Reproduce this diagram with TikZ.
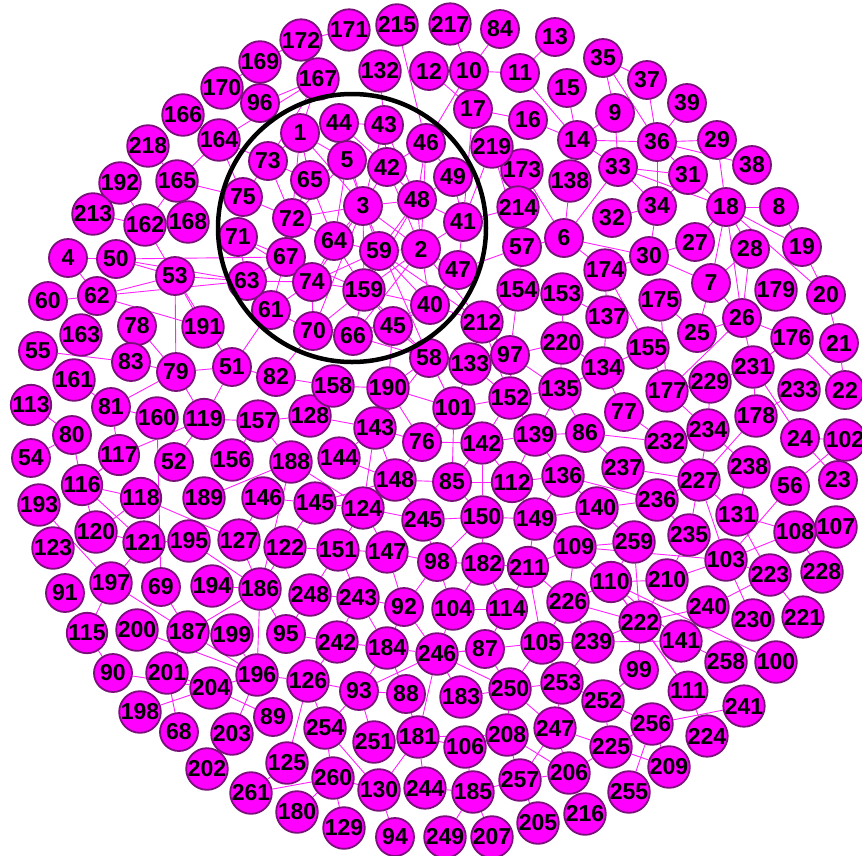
\documentclass[tikz,border=0pt]{standalone}
\usepackage{fontspec}
\setmainfont{Liberation Sans}
\definecolor{vfill}{HTML}{FF00FF}
\definecolor{vdraw}{HTML}{7A107A}
\definecolor{edgec}{HTML}{FF22FF}
\pgfdeclarelayer{edgelayer}
\pgfsetlayers{edgelayer,main}
\tikzset{
  vx/.style={circle, fill=vfill, draw=vdraw, line width=1.8pt, minimum size=38pt, inner sep=0pt,
    font=\bfseries\fontsize{23}{23}\selectfont, text=black},
  ed/.style={draw=edgec, line width=0.9pt},
  hilite/.style={draw=black, line width=4.5pt}
}
\begin{document}
\begin{tikzpicture}[x=1pt,y=1pt]
\useasboundingbox (0,0) rectangle (862,-855);
\foreach \n/\x/\y in {
1/300/133, 2/421/249, 3/363/206, 4/68/258, 5/347/160, 6/564/238, 7/711/283, 8/779/207, 9/615/113, 10/469/71,
11/520/73, 12/429/71, 13/555/37, 14/577/140, 15/567/88, 16/528/120, 17/473/109, 18/726/207, 19/802/247, 20/826/295,
21/839/343, 22/845/390, 23/838/480, 24/800/438, 25/697/333, 26/742/318, 27/695/242, 28/750/249, 29/717/140, 30/649/256,
31/688/175, 32/612/218, 33/618/167, 34/657/206, 35/603/58, 36/657/142, 37/647/80, 38/752/165, 39/687/103, 40/430/305,
41/463/222, 42/387/167, 43/384/125, 44/339/123, 45/393/326, 46/426/143, 47/458/270, 48/417/200, 49/453/177, 50/116/259,
51/232/367, 52/174/462, 53/175/276, 54/31/458, 55/38/351, 56/790/486, 57/522/247, 58/429/358, 59/379/251, 60/48/301,
61/271/310, 62/97/296, 63/247/281, 64/334/241, 65/310/180, 66/353/336, 67/286/257, 68/179/732, 69/161/587, 70/313/331,
71/238/237, 72/292/218, 73/268/161, 74/312/282, 75/243/197, 76/422/442, 77/624/412, 78/137/326, 79/176/372, 80/72/435,
81/111/407, 82/276/377, 83/131/362, 84/500/29, 85/452/482, 86/585/433, 87/485/649, 88/406/694, 89/273/717, 90/113/673,
91/65/593, 92/404/607, 93/359/691, 94/395/837, 95/286/634, 96/260/103, 97/510/355, 98/437/562, 99/639/670, 100/776/662,
101/454/408, 102/845/440, 103/726/560, 104/453/609, 105/542/643, 106/465/747, 107/836/527, 108/795/532, 109/575/547, 110/611/582,
111/688/691, 112/512/482, 113/31/405, 114/507/609, 115/87/633, 116/82/485, 117/119/455, 118/141/498, 119/204/419, 120/96/532,
121/144/542, 122/285/547, 123/53/548, 124/363/508, 125/287/763, 126/308/681, 127/239/540, 128/310/416, 129/344/828, 130/379/790,
131/737/515, 132/380/71, 133/470/364, 134/603/368, 135/560/389, 136/563/476, 137/607/317, 138/570/181, 139/535/435, 140/597/508,
141/681/641, 142/482/443, 143/375/428, 144/339/458, 145/315/503, 146/263/498, 147/387/552, 148/395/480, 149/535/519, 150/482/517,
151/338/550, 152/510/398, 153/562/294, 154/518/290, 155/648/348, 156/232/460, 157/258/421, 158/333/386, 159/364/290, 160/157/418,
161/74/380, 162/145/225, 163/81/335, 164/219/140, 165/177/181, 166/183/115, 167/318/79, 168/188/222, 169/260/62, 170/222/88,
171/349/30, 172/301/40, 173/522/170, 174/605/270, 175/660/300, 176/792/338, 177/667/391, 178/756/416, 179/776/290, 180/297/812,
181/418/737, 182/483/564, 183/461/697, 184/387/648, 185/473/792, 186/260/589, 187/188/632, 188/291/462, 189/204/498, 190/388/388,
191/203/327, 192/120/183, 193/39/505, 194/212/586, 195/189/541, 196/257/675, 197/111/583, 198/140/712, 199/232/635, 200/137/630,
201/167/673, 202/207/769, 203/232/734, 204/211/688, 205/538/823, 206/569/773, 207/492/837, 208/507/735, 209/669/767, 210/667/580,
211/528/567, 212/482/322, 213/93/214, 214/518/207, 215/397/25, 216/585/814, 217/450/24, 218/148/146, 219/492/147, 220/562/343,
221/803/617, 222/640/622, 223/770/575, 224/707/736, 225/611/747, 226/568/602, 227/699/480, 228/822/572, 229/710/382, 230/753/620,
231/753/367, 232/666/442, 233/799/390, 234/708/430, 235/689/535, 236/657/500, 237/623/468, 238/749/467, 239/593/642, 240/708/607,
241/744/706, 242/337/642, 243/358/598, 244/425/788, 245/423/520, 246/437/654, 247/555/728, 248/310/595, 249/445/837, 250/510/689,
251/374/742, 252/603/701, 253/562/683, 254/325/728, 255/629/792, 256/652/724, 257/520/780, 258/726/662, 259/634/542, 260/333/778,
261/251/793}
  \node[vx] (n\n) at (\x,-\y) {\n};
\begin{pgfonlayer}{edgelayer}
\foreach \a/\b in {
169/172, 169/170, 171/172, 96/167, 164/167, 218/165, 165/164, 164/73, 164/75, 165/75, 192/162, 165/162, 213/162, 162/168,
162/53, 4/50, 4/62, 60/62, 62/53, 62/191, 62/63, 53/79, 53/191, 53/63, 50/53, 50/63, 50/67, 53/51, 51/61, 78/83, 78/79,
55/83, 83/79, 79/51, 51/82, 79/81, 81/160, 79/119, 51/119, 161/81, 113/80, 80/116, 54/80, 81/117, 117/116, 116/118,
116/121, 116/120, 118/120, 120/121, 118/127, 160/69, 119/117, 119/157, 119/52, 156/157, 157/188, 188/189, 146/145,
146/127, 127/186, 188/186, 195/186, 121/197, 193/197, 197/115, 197/187, 69/187, 194/186, 186/187, 186/95, 121/195,
115/90, 90/204, 200/196, 187/196, 187/201, 201/204, 201/68, 198/204, 204/89, 196/203, 196/204, 196/126, 199/196,
186/196, 203/202, 261/125, 126/125, 260/261,
126/93, 126/254, 93/88, 93/254, 93/251, 254/260, 254/130, 251/181, 181/244, 181/106, 181/130, 260/130, 260/180, 260/129,
130/94, 244/185, 185/249, 185/257, 185/207, 106/185, 106/208, 208/250, 250/183, 250/253, 250/247, 208/257, 208/206,
257/205, 247/257, 88/181, 181/208, 184/246, 246/87, 246/250, 87/250, 105/250, 242/184, 242/126, 95/242, 184/88,
246/183, 246/181, 246/93,
239/222, 222/99, 222/111, 110/111, 141/258, 110/100, 239/253, 253/252, 252/256, 252/99, 252/225, 256/225, 256/241,
111/224, 256/255, 225/209, 225/247, 206/216, 206/225, 239/141, 256/209,
86/232, 77/232, 234/227, 234/238, 178/227, 232/227, 237/227, 136/236, 136/140, 140/236, 236/227, 236/235, 227/131,
227/103, 227/235, 24/23, 102/56, 140/259, 109/259, 109/103, 235/210, 131/223, 131/108, 103/108, 56/103, 108/107,
108/228, 103/223, 103/230, 103/210, 223/221, 223/240, 110/210, 109/110, 110/222, 259/222, 210/222, 222/240, 110/141,
226/110, 86/237, 238/131, 24/102,
32/34, 34/30, 18/27, 18/7, 18/26, 18/28, 18/19, 18/20, 8/19, 19/20, 28/7, 28/26, 30/27, 30/7, 30/174, 6/174, 6/30,
174/137, 174/155, 175/25, 175/177, 7/25, 7/26, 25/26, 26/177, 26/176, 26/231, 20/21, 21/22, 176/22, 176/231, 137/134,
134/155, 155/177, 134/77, 177/229, 231/229, 231/178, 231/24, 177/234, 229/234, 233/178,
35/37, 35/9, 35/36, 37/36, 39/36, 36/29, 9/14, 14/36, 15/14, 9/33, 14/33, 36/31, 36/38, 29/18, 33/31, 33/18, 36/34,
33/34, 34/31, 31/18, 18/8, 33/6, 138/6,
217/10, 84/10, 13/11, 12/10, 10/11, 12/17, 10/17, 10/46, 11/14, 17/16, 16/14, 132/43, 167/1, 167/73, 44/43, 215/46,
219/214, 17/41, 173/6, 219/57,
143/76, 76/142, 142/139, 148/85, 85/112, 112/136, 85/150, 124/145, 124/148, 150/149, 98/182, 182/211, 98/104, 98/92,
182/114, 211/226, 151/243, 124/245, 245/150, 147/98, 148/76, 142/85, 139/136, 139/86, 135/86, 152/139, 101/142,
149/211, 149/136, 150/182, 211/109, 211/105, 114/87, 104/246, 92/184, 243/92, 248/243, 151/147, 145/122, 122/186,
248/95, 128/143, 128/157, 158/128, 143/144, 190/143,
59/2, 2/40, 47/40, 159/45, 40/45, 66/45, 70/66, 74/70, 45/58, 58/133, 133/97, 212/133, 212/97, 154/212, 57/154,
133/101, 97/152, 152/135, 190/158, 190/101, 58/190, 158/128, 153/220, 220/135, 135/134, 220/134, 153/137, 212/40,
57/47, 214/41, 219/41, 82/70, 82/158, 58/66, 57/6,
1/73, 1/65, 1/5, 1/3, 44/5, 44/42, 43/42, 43/3, 46/42, 46/48, 46/2, 5/65, 5/3, 5/64, 42/48, 42/3, 49/48, 49/41, 48/3,
48/2, 48/41, 48/59, 65/72, 65/64, 73/75, 73/72, 73/65, 75/72, 75/71, 72/67, 72/64, 72/3, 71/67, 71/63, 71/74, 64/59,
64/74, 64/159, 64/3, 3/59, 3/2, 3/159, 59/159, 59/40, 2/47, 2/41, 2/159, 41/47, 67/74, 67/63, 67/61, 63/74, 63/61,
74/159, 74/61, 159/70, 159/66, 159/40, 61/70, 70/45, 66/40, 3/74, 3/70, 2/66, 48/159, 59/74, 67/159, 5/72, 42/2,
1/72, 44/3, 43/48, 3/58, 59/212, 2/212, 159/58, 46/49,
190/45, 101/58, 152/212, 97/154, 135/97, 220/97, 152/133, 101/76, 143/58, 190/76, 101/152, 142/152, 139/135, 85/101,
148/143, 245/148, 245/98, 147/124, 150/98, 150/142, 112/149, 112/139, 112/142, 149/140, 149/109, 211/114, 182/104,
104/114, 92/246, 243/184, 147/92, 151/124, 122/151, 248/151, 242/243, 184/93, 246/105, 105/239, 226/239, 226/105,
247/253, 247/206, 206/257, 124/188, 144/148, 145/148, 143/124, 226/109, 259/110, 222/226, 253/105}
  \draw[ed] (n\a) -- (n\b);
\end{pgfonlayer}
\node[hilite, circle, minimum size=268pt, inner sep=0pt] (hl) at (352,-228) {};
\end{tikzpicture}
\end{document}
